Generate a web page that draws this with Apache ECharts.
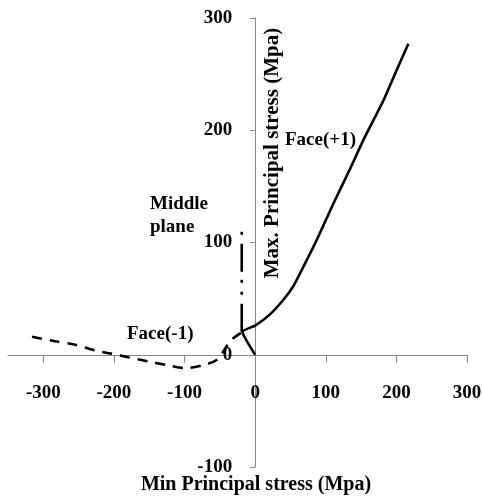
<!DOCTYPE html>
<html>
<head>
<meta charset="utf-8">
<script src="https://cdn.jsdelivr.net/npm/echarts@6/dist/echarts.min.js"></script>
<style>
html,body{margin:0;padding:0;background:#fff;}
#chart{width:482px;height:501px;}
</style>
</head>
<body>
<div id="chart"></div>
<script>
// ---- Data (Min principal stress, Max principal stress) in MPa ----
var facePlusMin  = [0, -18, 0, 21, 40, 54, 68, 87, 111, 134, 153, 182, 200, 217];
var facePlusMax  = [0, 20.5, 26, 36, 49, 61, 78, 102, 135, 165, 191, 227, 253, 277];

var faceMinusMin = [-316, -283, -255, -228, -204, -178, -151, -123, -99, -72, -54, -45, -35, -18];
var faceMinusMax = [16, 12, 9, 4, 1, -2.5, -6, -9.5, -12, -9, -4.5, 3, 12.5, 20.5];

var middleMin = [-19, -19];
var middleMax = [20.5, 116];

var xTicks = [-300, -200, -100, 0, 100, 200, 300];
var yTicks = [-100, 0, 100, 200, 300];

function pairs(xs, ys) { return xs.map(function (x, i) { return [x, ys[i]]; }); }

var W = 482, H = 501;
var G = {left: 8, right: 15, top: 18, bottom: 34};
var X_MIN = -350, X_MAX = 300, Y_MIN = -100, Y_MAX = 300;
var gw = W - G.left - G.right, gh = H - G.top - G.bottom;
// shift the axes so they cross at the origin (labels follow the axes)
var xAxisOffset = -gh * (0 - Y_MIN) / (Y_MAX - Y_MIN);
var yAxisOffset = -gw * (0 - X_MIN) / (X_MAX - X_MIN);

var FONT = 'Liberation Serif';
var chart = echarts.init(document.getElementById('chart'), null, {renderer: 'canvas'});
chart.setOption({
  animation: false,
  backgroundColor: '#ffffff',
  grid: {left: G.left, right: G.right, top: G.top, bottom: G.bottom, containLabel: false, outerBoundsMode: 'none'},
  xAxis: {
    type: 'value', min: X_MIN, max: X_MAX, position: 'bottom', offset: xAxisOffset,
    axisLine: {show: true, onZero: false, lineStyle: {color: '#888', width: 1}},
    axisTick: {show: true, length: 8, inside: false, customValues: xTicks, lineStyle: {color: '#888'}},
    axisLabel: {show: true, customValues: xTicks, margin: 29, color: '#000',
      fontFamily: FONT, fontWeight: 'bold', fontSize: 19},
    splitLine: {show: false}
  },
  yAxis: {
    type: 'value', min: Y_MIN, max: Y_MAX, interval: 100, position: 'left', offset: yAxisOffset,
    axisLine: {show: true, onZero: false, lineStyle: {color: '#888', width: 1}},
    axisTick: {show: true, length: 5, inside: false, lineStyle: {color: '#888'}},
    axisLabel: {show: true, margin: 23, color: '#000',
      fontFamily: FONT, fontWeight: 'bold', fontSize: 19,
      formatter: function (v) { return yTicks.indexOf(v) >= 0 ? String(v) : ''; }},
    splitLine: {show: false}
  },
  series: [
    {
      name: 'Face(-1)', type: 'line', data: pairs(faceMinusMin, faceMinusMax),
      showSymbol: false, symbol: 'none', smooth: 0.3,
      lineStyle: {color: '#000', width: 2.6, type: [10, 8]}
    },
    {
      name: 'Middle plane', type: 'line', data: pairs(middleMin, middleMax),
      showSymbol: false, symbol: 'none',
      lineStyle: {color: '#000', width: 2.6, type: [28, 9, 3, 9, 3, 8]}
    },
    {
      name: 'Face(+1)', type: 'line', data: pairs(facePlusMin, facePlusMax),
      showSymbol: false, symbol: 'none', smooth: 0.15,
      lineStyle: {color: '#000', width: 2.6}
    }
  ],
  graphic: [
    {type: 'text', x: 273, y: 153, rotation: Math.PI / 2,
      style: {text: 'Max. Principal stress (Mpa)', fill: '#000', font: 'bold 21px "Liberation Serif"',
        align: 'center', verticalAlign: 'middle'}},
    {type: 'text', x: 256, y: 485,
      style: {text: 'Min Principal stress (Mpa)', fill: '#000', font: 'bold 20px "Liberation Serif"',
        align: 'center', verticalAlign: 'middle'}},
    {type: 'text', x: 285, y: 140,
      style: {text: 'Face(+1)', fill: '#000', font: 'bold 19px "Liberation Serif"',
        align: 'left', verticalAlign: 'middle'}},
    {type: 'text', x: 150, y: 193,
      style: {text: 'Middle\nplane', fill: '#000', font: 'bold 19px "Liberation Serif"', lineHeight: 23,
        align: 'left', verticalAlign: 'top'}},
    {type: 'text', x: 127, y: 334,
      style: {text: 'Face(-1)', fill: '#000', font: 'bold 19px "Liberation Serif"',
        align: 'left', verticalAlign: 'middle'}}
  ]
});
</script>
</body>
</html>
